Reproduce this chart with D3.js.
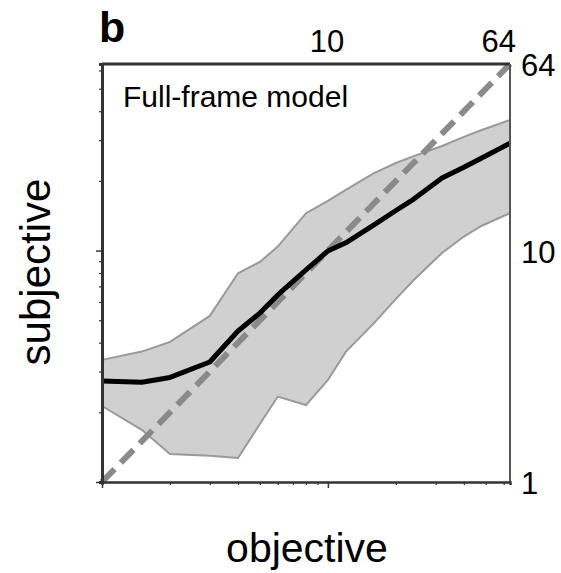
<!DOCTYPE html>
<html><head><meta charset="utf-8">
<script src="https://cdn.jsdelivr.net/npm/d3@7"></script>
<style>body{margin:0;background:#fff}svg{display:block;font-family:"Liberation Sans",Arial,sans-serif}</style>
</head><body>
<svg id="c" width="561" height="573"></svg>
<script>
const objective = [1, 1.5, 2, 3, 4, 5, 6, 8, 10, 12, 16, 20, 24, 32, 40, 48, 64];
const meanSubj  = [2.73, 2.70, 2.83, 3.30, 4.49, 5.37, 6.43, 8.25, 9.96, 10.8, 12.9, 14.9, 16.7, 20.6, 22.9, 25.1, 29.1];
const upperSubj = [3.37, 3.66, 4.03, 5.22, 7.98, 8.93, 10.4, 14.5, 16.4, 18.3, 21.6, 23.9, 25.6, 28.3, 31.0, 33.2, 36.7];
const lowerSubj = [2.13, 1.68, 1.32, 1.30, 1.27, 1.78, 2.34, 2.15, 2.76, 3.65, 4.86, 6.18, 7.46, 9.77, 11.5, 12.8, 14.5];
const identity = [1, 64];
const tickLabels = [1, 10, 64];
const minorTicks = [2,3,4,5,6,7,8,9,20,30,40,50,60];
const majorTicks = [1, 10];

const svg = d3.select("#c");
const L = 102, R = 510, T = 64, B = 482;
const x = d3.scaleLog().domain([1, 64]).range([L, R]);
const y = d3.scaleLog().domain([1, 64]).range([B, T]);

const idx = d3.range(objective.length);
// band
const area = d3.area().x(i => x(objective[i])).y0(i => y(lowerSubj[i])).y1(i => y(upperSubj[i]));
svg.append("path").datum(idx).attr("d", area).attr("fill", "#d0d0d0").attr("stroke", "none");
const lineU = d3.line().x(i => x(objective[i])).y(i => y(upperSubj[i]));
const lineL = d3.line().x(i => x(objective[i])).y(i => y(lowerSubj[i]));
svg.append("path").datum(idx).attr("d", lineU).attr("fill", "none").attr("stroke", "#999").attr("stroke-width", 2);
svg.append("path").datum(idx).attr("d", lineL).attr("fill", "none").attr("stroke", "#999").attr("stroke-width", 2);

// identity dashed
svg.append("path").datum(identity)
  .attr("d", d3.line().x(d => x(d)).y(d => y(d)))
  .attr("fill", "none").attr("stroke", "#8a8a8a").attr("stroke-width", 6)
  .attr("stroke-dasharray", "18,9");

// mean line
const lineM = d3.line().x(i => x(objective[i])).y(i => y(meanSubj[i]));
svg.append("path").datum(idx).attr("d", lineM).attr("fill", "none").attr("stroke", "#000")
  .attr("stroke-width", 5).attr("stroke-linejoin", "round");

// frame
svg.append("line").attr("x1", L).attr("x2", R).attr("y1", T).attr("y2", T).attr("stroke", "#333").attr("stroke-width", 3);
svg.append("line").attr("x1", R).attr("x2", R).attr("y1", T).attr("y2", B).attr("stroke", "#555").attr("stroke-width", 2);

// bottom axis
const gx = svg.append("g").attr("transform", `translate(0,${B})`)
  .call(d3.axisBottom(x).tickValues(minorTicks).tickSize(3).tickFormat(""));
gx.select(".domain").attr("stroke", "#333").attr("stroke-width", 2.5);
gx.selectAll(".tick line").attr("stroke", "#333").attr("stroke-width", 1.2);
const gx2 = svg.append("g").attr("transform", `translate(0,${B})`)
  .call(d3.axisBottom(x).tickValues(majorTicks).tickSize(6).tickFormat(""));
gx2.select(".domain").remove();
gx2.selectAll(".tick line").attr("stroke", "#333").attr("stroke-width", 1.5);

// left axis
const gy = svg.append("g").attr("transform", `translate(${L},0)`)
  .call(d3.axisLeft(y).tickValues(minorTicks).tickSize(3).tickFormat(""));
gy.select(".domain").attr("stroke", "#333").attr("stroke-width", 3);
gy.selectAll(".tick line").attr("stroke", "#333").attr("stroke-width", 1.2);
const gy2 = svg.append("g").attr("transform", `translate(${L},0)`)
  .call(d3.axisLeft(y).tickValues(majorTicks).tickSize(6).tickFormat(""));
gy2.select(".domain").remove();
gy2.selectAll(".tick line").attr("stroke", "#333").attr("stroke-width", 1.5);

// right labels
svg.append("g").selectAll("text").data(tickLabels).join("text")
  .attr("x", R + 11).attr("y", d => y(d) + 1).attr("dy", "0.36em")
  .attr("font-size", 31).attr("fill", "#000").text(d => d);
// top labels
svg.append("text").attr("x", x(10) - 1).attr("y", 52).attr("text-anchor", "middle")
  .attr("font-size", 31).text(tickLabels[1]);
svg.append("text").attr("x", x(64) + 6).attr("y", 52).attr("text-anchor", "end")
  .attr("font-size", 31).text(tickLabels[2]);

// titles
svg.append("text").attr("x", 99).attr("y", 42).attr("font-size", 43).attr("font-weight", "bold").text("b");
svg.append("text").attr("x", 123).attr("y", 107).attr("font-size", 30).text("Full-frame model");
svg.append("text").attr("x", 307).attr("y", 562).attr("text-anchor", "middle").attr("font-size", 41).text("objective");
svg.append("text").attr("transform", "translate(50,272) rotate(-90)").attr("text-anchor", "middle").attr("font-size", 42).text("subjective");
</script>
</body></html>
